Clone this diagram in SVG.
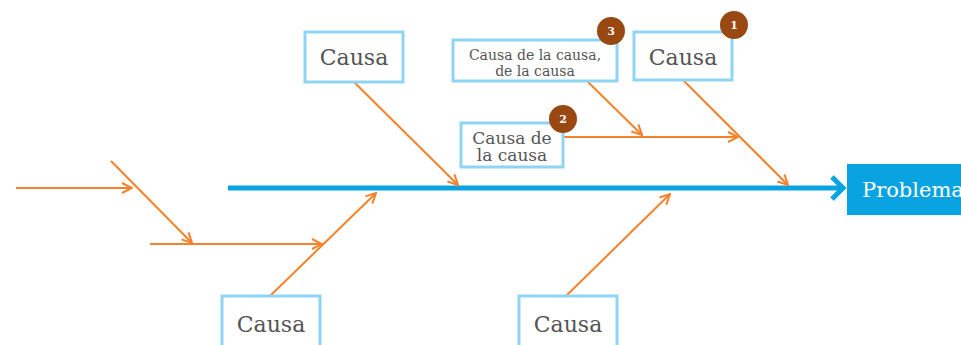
<svg xmlns="http://www.w3.org/2000/svg" width="961" height="345" viewBox="0 0 961 345">
<defs>
<style>
.box{fill:#fff;stroke:#8fd4f4;stroke-width:3}
.t{font-family:"DejaVu Serif","Liberation Serif",serif;fill:#555;text-anchor:middle}
.big{font-size:22px}
.o{stroke:#f5822a;stroke-width:2;fill:none}
.badge{fill:#9a4812}
.bn{font-family:"DejaVu Serif",serif;font-size:11px;fill:#fff;text-anchor:middle;font-weight:bold}
</style>
<marker id="oa" viewBox="0 0 12 12" refX="11" refY="6" markerWidth="12" markerHeight="12" markerUnits="userSpaceOnUse" orient="auto">
<path d="M1,1 L11,6 L1,11" fill="none" stroke="#f5822a" stroke-width="2"/>
</marker>
</defs>
<rect width="961" height="345" fill="#fff"/>
<g id="connectors">
<line x1="228" y1="188" x2="843" y2="188" stroke="#0aa3e2" stroke-width="5"/>
<path d="M832,177 L843,188 L832,199" fill="none" stroke="#0aa3e2" stroke-width="5" stroke-linejoin="miter"/>
<line class="o" x1="16" y1="188" x2="132" y2="188" marker-end="url(#oa)"/>
<line class="o" x1="111" y1="161" x2="192" y2="243" marker-end="url(#oa)"/>
<line class="o" x1="150" y1="244" x2="322" y2="244" marker-end="url(#oa)"/>
<line class="o" x1="270" y1="296" x2="376" y2="193" marker-end="url(#oa)"/>
<line class="o" x1="354" y1="82" x2="458" y2="185" marker-end="url(#oa)"/>
<line class="o" x1="566" y1="296" x2="670" y2="194" marker-end="url(#oa)"/>
<line class="o" x1="683" y1="80" x2="788" y2="185" marker-end="url(#oa)"/>
<line class="o" x1="563" y1="137" x2="738" y2="137" marker-end="url(#oa)"/>
<line class="o" x1="588" y1="82" x2="642" y2="135" marker-end="url(#oa)"/>
</g>
<g id="problema">
<rect x="847" y="164" width="120" height="51" fill="#0aa3e2"/>
<text x="862" y="197" font-family="DejaVu Serif,serif" font-size="21" fill="#fff">Problema</text>
</g>
<g id="causa-top-left">
<rect class="box" x="305" y="32" width="98" height="50"/>
<text class="t big" x="354" y="65">Causa</text>
</g>
<g id="causa-causa-causa">
<rect class="box" x="453" y="40" width="164" height="41"/>
<text class="t" font-size="14" x="535" y="60">Causa de la causa,</text>
<text class="t" font-size="14" x="535" y="76">de la causa</text>
<circle class="badge" cx="611" cy="31" r="14"/>
<text class="bn" x="611" y="35">3</text>
</g>
<g id="causa-top-right">
<rect class="box" x="634" y="32" width="98" height="48"/>
<text class="t big" x="683" y="65">Causa</text>
<circle class="badge" cx="734" cy="25" r="14"/>
<text class="bn" x="734" y="29">1</text>
</g>
<g id="causa-de-la-causa">
<rect class="box" x="461" y="123" width="102" height="44"/>
<text class="t" font-size="17" x="512" y="144">Causa de</text>
<text class="t" font-size="17" x="512" y="161">la causa</text>
<circle class="badge" cx="563" cy="119" r="14"/>
<text class="bn" x="563" y="123">2</text>
</g>
<g id="causa-bottom-left">
<rect class="box" x="222" y="296" width="98" height="52"/>
<text class="t big" x="271" y="332">Causa</text>
</g>
<g id="causa-bottom-right">
<rect class="box" x="519" y="296" width="98" height="52"/>
<text class="t big" x="568" y="332">Causa</text>
</g>
</svg>
